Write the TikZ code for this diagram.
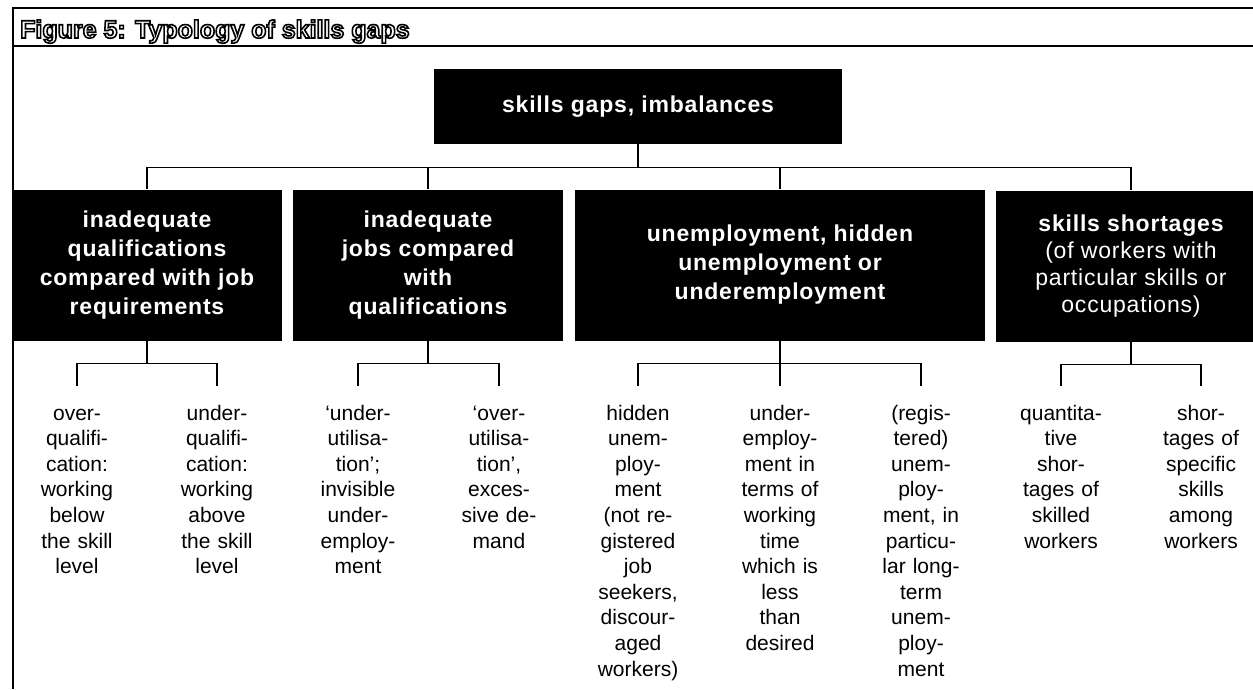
\documentclass[tikz,border=0pt]{standalone}
\usepackage{fontspec}
\setmainfont{Liberation Sans}
\newfontfamily\boxfont[LetterSpace=3.5]{Liberation Sans}
\usepackage{tikz}
% hollow letters: fill white, stroke black
\newcommand{\hollow}[1]{\special{pdf:literal 2 Tr 1.6 w 0 G 1 g}#1\special{pdf:literal 0 Tr 0 g}}

\begin{document}
\begin{tikzpicture}[x=1pt,y=-1pt]
\tikzstyle{every node}=[inner sep=0pt]
\tikzstyle{gapbox}=[fill=black,text=white,align=center,minimum width=270pt,minimum height=151pt,font=\boxfont\bfseries\fontsize{23}{29}\selectfont]
\tikzstyle{leaf}=[anchor=north,align=center,text width=130pt,inner ysep=16pt,font=\fontsize{21}{25.6}\selectfont,execute at begin node=\strut]
\tikzstyle{link}=[line width=1.4pt]
\useasboundingbox (0,0) rectangle (1253,689);
% frame and title
\draw[line width=1.6pt] (13,689) -- (13,8) -- (1253,8);
\draw[line width=1.6pt] (13,46) -- (1253,46);
\node[anchor=base west,font=\bfseries\fontsize{25}{28}\selectfont] (title) at (20,38) {\hollow{Figure 5: Typology of skills gaps}};
% boxes
\node[gapbox,minimum width=408pt,minimum height=75pt] (top) at (638,106.5) {skills gaps, imbalances};
\node[gapbox] (a) at (147,265) {inadequate\\qualifications\\compared with job\\requirements};
\node[gapbox] (b) at (428,265) {inadequate\\jobs compared\\with\\qualifications};
\node[gapbox,minimum width=410pt] (c) at (780,265) {unemployment, hidden\\unemployment or\\underemployment};
\node[gapbox,font=\boxfont\bfseries\fontsize{23}{27}\selectfont] (d) at (1131,266) {skills shortages\\\mdseries (of workers with\\\mdseries particular skills or\\\mdseries occupations)};
% leaves
\node[leaf] (a1) at (77,386) {over-\\qualifi-\\cation:\\working\\below\\the skill\\level};
\node[leaf] (a2) at (217,386) {under-\\qualifi-\\cation:\\working\\above\\the skill\\level};
\node[leaf] (b1) at (358,386) {`under-\\utilisa-\\tion';\\invisible\\under-\\employ-\\ment};
\node[leaf] (b2) at (499,386) {`over-\\utilisa-\\tion',\\exces-\\sive de-\\mand};
\node[leaf] (c1) at (638,386) {hidden\\unem-\\ploy-\\ment\\(not re-\\gistered\\job\\seekers,\\discour-\\aged\\workers)};
\node[leaf] (c2) at (780,386) {under-\\employ-\\ment in\\terms of\\working\\time\\which is\\less\\than\\desired};
\node[leaf] (c3) at (921,386) {(regis-\\tered)\\unem-\\ploy-\\ment, in\\particu-\\lar long-\\term\\unem-\\ploy-\\ment};
\node[leaf] (d1) at (1061,386) {quantita-\\tive\\shor-\\tages of\\skilled\\workers};
\node[leaf] (d2) at (1201,386) {shor-\\tages of\\specific\\skills\\among\\workers};
% connectors
\draw[link] (top.south) -- ++(0,23) coordinate (j);
\draw[link] (a.north) |- (j) -| (d.north);
\draw[link] (j -| b.north) -- (b.north);
\draw[link] (j -| c.north) -- (c.north);
\draw[link] (a.south) -- ++(0,23) coordinate (ja);
\draw[link] (a1.north) |- (ja) -| (a2.north);
\draw[link] (b.south) -- ++(0,23) coordinate (jb);
\draw[link] (b1.north) |- (jb) -| (b2.north);
\draw[link] (c.south) -- ++(0,23) coordinate (jc);
\draw[link] (c1.north) |- (jc) -| (c3.north);
\draw[link] (jc) -- (c2.north);
\draw[link] (d.south) -- ++(0,23) coordinate (jd);
\draw[link] (d1.north) |- (jd) -| (d2.north);
\end{tikzpicture}
\end{document}
